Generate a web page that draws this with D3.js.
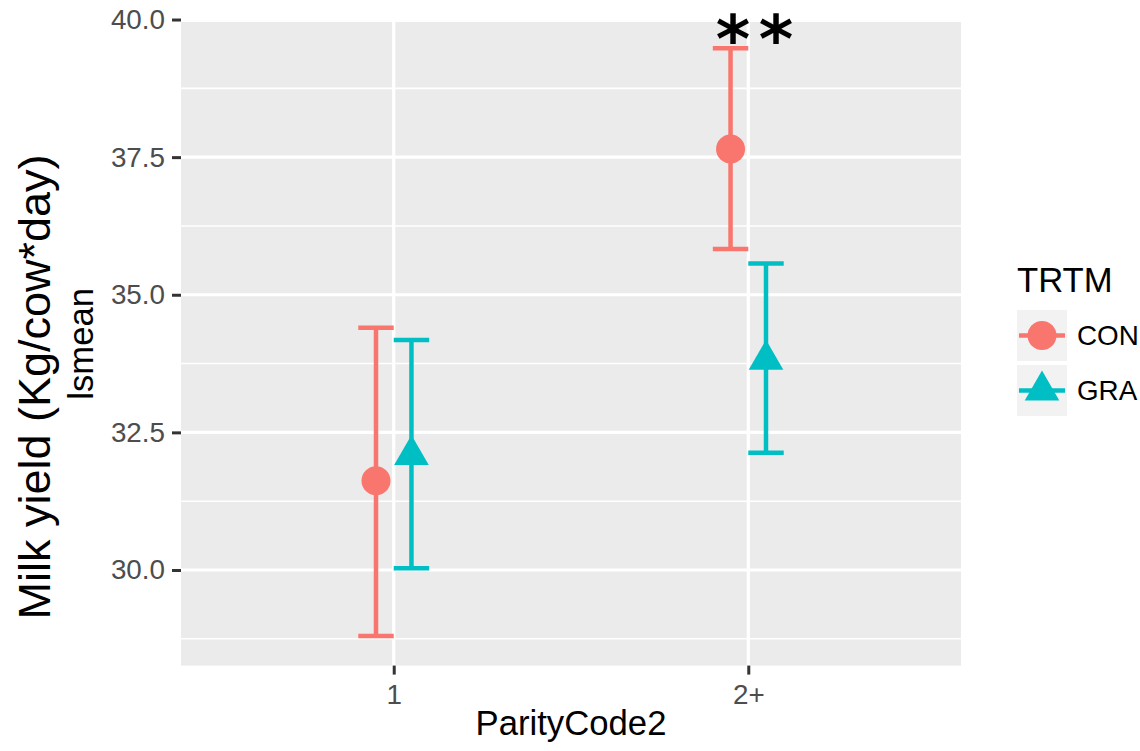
<!DOCTYPE html>
<html>
<head>
<meta charset="utf-8">
<script src="https://cdn.jsdelivr.net/npm/d3@7"></script>
<style>
  body { margin: 0; background: #fff; }
  text { font-family: "Liberation Sans", Arial, sans-serif; }
</style>
</head>
<body>
<div id="chart"></div>
<script>
const width = 1140;
const height = 751;

// data
const parity = ["1", "2+"];
const treatments = ["CON", "GRA"];
const lsmeanCON = [31.62, 37.65];
const lowerCON = [28.80, 35.83];
const upperCON = [34.40, 39.48];
const lsmeanGRA = [32.09, 33.82];
const lowerGRA = [30.03, 32.13];
const upperGRA = [34.18, 35.57];
const yTicks = [30, 32.5, 35, 37.5, 40];
const yMinor = [28.75, 31.25, 33.75, 36.25, 38.75];

const rows = [];
parity.forEach((p, i) => {
    rows.push({ parity: p, trtm: "CON", mean: lsmeanCON[i], lo: lowerCON[i], hi: upperCON[i] });
    rows.push({ parity: p, trtm: "GRA", mean: lsmeanGRA[i], lo: lowerGRA[i], hi: upperGRA[i] });
});

const panel = { left: 181, right: 961, top: 22, bottom: 665.6 };

const color = d3.scaleOrdinal().domain(treatments).range(["#F8766D", "#00BFC4"]);

const x = d3.scalePoint()
    .domain(parity)
    .range([panel.left, panel.right])
    .padding(0.6);

// dodge inside each category
const dodge = d3.scaleBand()
    .domain(treatments)
    .range([-0.1 * x.step(), 0.1 * x.step()]);

const y = d3.scaleLinear()
    .domain([28.263, 39.955])
    .range([panel.bottom, panel.top]);

const svg = d3.select("#chart").append("svg")
    .attr("width", width)
    .attr("height", height);

// panel background
svg.append("rect")
    .attr("x", panel.left)
    .attr("y", panel.top)
    .attr("width", panel.right - panel.left)
    .attr("height", panel.bottom - panel.top)
    .style("fill", "#EBEBEB");

// grid lines
svg.selectAll(".minor")
    .data(yMinor)
    .enter().append("line")
    .attr("x1", panel.left).attr("x2", panel.right)
    .attr("y1", d => y(d)).attr("y2", d => y(d))
    .style("stroke", "white").style("stroke-width", 1.6);

svg.selectAll(".major")
    .data(yTicks.filter(d => d <= y.domain()[1]))
    .enter().append("line")
    .attr("x1", panel.left).attr("x2", panel.right)
    .attr("y1", d => y(d)).attr("y2", d => y(d))
    .style("stroke", "white").style("stroke-width", 3.2);

svg.selectAll(".vmajor")
    .data(parity)
    .enter().append("line")
    .attr("x1", d => x(d)).attr("x2", d => x(d))
    .attr("y1", panel.top).attr("y2", panel.bottom)
    .style("stroke", "white").style("stroke-width", 3.2);

// axes
const yAxis = svg.append("g")
    .attr("transform", `translate(${panel.left},0)`)
    .call(d3.axisLeft(y).tickValues(yTicks).tickFormat(d3.format(".1f")).tickSize(9).tickPadding(7));

const xAxis = svg.append("g")
    .attr("transform", `translate(0,${panel.bottom})`)
    .call(d3.axisBottom(x).tickSize(9).tickPadding(9.4));

[xAxis, yAxis].forEach(a => {
    a.select(".domain").remove();
    a.selectAll(".tick line").style("stroke", "#333333").style("stroke-width", 3);
    a.selectAll(".tick text")
        .style("font-size", "27.8px")
        .style("fill", "#4D4D4D")
        .style("font-family", "'Liberation Sans', Arial, sans-serif");
});

// error bars
const cx = d => x(d.parity) + dodge(d.trtm) + dodge.bandwidth() / 2;
const bars = svg.selectAll(".bar")
    .data(rows)
    .enter().append("g")
    .style("stroke", d => color(d.trtm))
    .style("stroke-width", 4.5);

bars.append("line")
    .attr("x1", cx).attr("x2", cx)
    .attr("y1", d => y(d.lo)).attr("y2", d => y(d.hi));

bars.append("line")
    .attr("x1", d => cx(d) - dodge.bandwidth() / 2).attr("x2", d => cx(d) + dodge.bandwidth() / 2)
    .attr("y1", d => y(d.hi)).attr("y2", d => y(d.hi));

bars.append("line")
    .attr("x1", d => cx(d) - dodge.bandwidth() / 2).attr("x2", d => cx(d) + dodge.bandwidth() / 2)
    .attr("y1", d => y(d.lo)).attr("y2", d => y(d.lo));

// point shapes, like R pch 16 / 17
function triangle(r) {
    const xc = r * 1.347 / 1.555, yc = r / 2;
    return `M0,${-r}L${xc},${yc}L${-xc},${yc}Z`;
}
function drawShape(sel, trtm) {
    if (trtm === "CON") {
        sel.append("circle").attr("r", 14.5).style("fill", color(trtm));
    } else {
        sel.append("path").attr("d", triangle(20)).style("fill", color(trtm));
    }
}

svg.selectAll(".pt")
    .data(rows)
    .enter().append("g")
    .attr("transform", d => `translate(${cx(d)},${y(d.mean)})`)
    .each(function (d) { drawShape(d3.select(this), d.trtm); });

// significance marks
svg.selectAll(".star")
    .data([733, 776])
    .enter().append("text")
    .attr("x", d => d)
    .attr("y", 62)
    .attr("text-anchor", "middle")
    .style("font-family", "'DejaVu Sans', sans-serif")
    .style("font-weight", "bold")
    .style("font-size", "66px")
    .style("fill", "black")
    .text("*");

// axis titles
svg.append("text")
    .attr("x", (panel.left + panel.right) / 2)
    .attr("y", 735)
    .attr("text-anchor", "middle")
    .style("font-size", "34.7px")
    .text("ParityCode2");

svg.append("text")
    .attr("transform", `translate(93,${(panel.top + panel.bottom) / 2}) rotate(-90)`)
    .attr("text-anchor", "middle")
    .style("font-size", "34.7px")
    .text("lsmean");

svg.append("text")
    .attr("transform", `translate(50,387) rotate(-90)`)
    .attr("text-anchor", "middle")
    .style("font-size", "45px")
    .text("Milk yield (Kg/cow*day)");

// legend
svg.append("text")
    .attr("x", 1017)
    .attr("y", 292)
    .style("font-size", "34.7px")
    .text("TRTM");

const legend = svg.selectAll(".legend")
    .data(treatments)
    .enter().append("g")
    .attr("transform", (d, i) => `translate(1017,${310 + i * 55})`);

legend.append("rect")
    .attr("width", 50)
    .attr("height", 51)
    .style("fill", "#F2F2F2");

legend.append("line")
    .attr("x1", 2).attr("x2", 48)
    .attr("y1", 25.5).attr("y2", 25.5)
    .style("stroke", d => color(d))
    .style("stroke-width", 4.5);

legend.append("g")
    .attr("transform", "translate(25,25.5)")
    .each(function (d) { drawShape(d3.select(this), d); });

legend.append("text")
    .attr("x", 60)
    .attr("y", 25.5)
    .attr("dy", "0.35em")
    .style("font-size", "27.8px")
    .text(d => d);
</script>
</body>
</html>
